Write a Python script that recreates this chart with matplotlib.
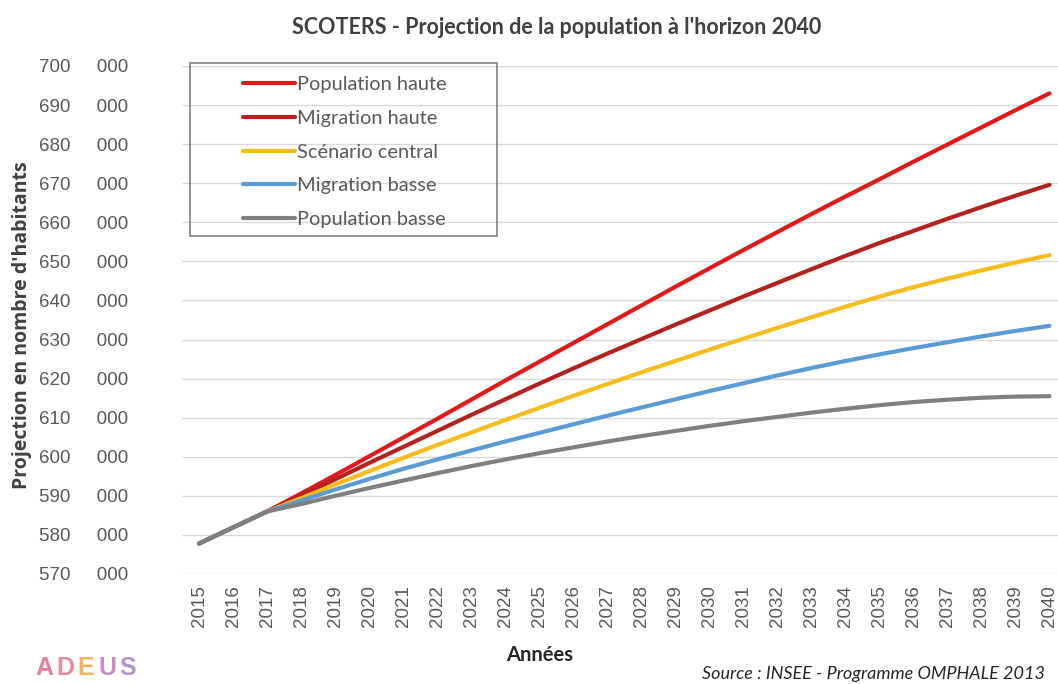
import matplotlib.pyplot as plt
from matplotlib.ticker import FuncFormatter
from matplotlib.patches import Rectangle

# annees et projections (en milliers d'habitants)
years = list(range(2015, 2041))
pop_haute = [577.8, 581.9, 586.0, 590.6, 595.3, 600.1, 604.9, 609.7, 614.6, 619.5,
             624.3, 629.1, 633.9, 638.7, 643.5, 648.2, 652.9, 657.5, 662.1, 666.6,
             671.0, 675.5, 679.9, 684.3, 688.7, 693.0]
mig_haute = [577.8, 581.9, 586.0, 590.0, 594.2, 598.4, 602.5, 606.6, 610.7, 614.7,
             618.7, 622.6, 626.4, 630.1, 633.8, 637.4, 641.0, 644.5, 648.0, 651.4,
             654.7, 657.8, 660.9, 663.9, 666.8, 669.6]
central = [577.8, 581.9, 586.0, 589.4, 592.9, 596.3, 599.7, 603.0, 606.2, 609.4,
           612.5, 615.6, 618.6, 621.6, 624.5, 627.4, 630.2, 633.0, 635.7, 638.4,
           641.0, 643.4, 645.6, 647.7, 649.7, 651.6]
mig_basse = [577.8, 581.9, 586.0, 588.8, 591.6, 594.3, 596.9, 599.3, 601.6, 603.9,
             606.1, 608.3, 610.5, 612.6, 614.7, 616.8, 618.8, 620.8, 622.7, 624.5,
             626.2, 627.8, 629.3, 630.8, 632.2, 633.5]
pop_basse = [577.8, 581.9, 586.0, 587.9, 590.0, 592.0, 593.9, 595.8, 597.6, 599.3,
             600.9, 602.4, 603.9, 605.3, 606.6, 607.9, 609.1, 610.2, 611.3, 612.3,
             613.2, 614.0, 614.6, 615.1, 615.4, 615.5]

labels = ['Population haute', 'Migration haute', 'Scénario central',
          'Migration basse', 'Population basse']
colors = ['#E2191C', '#B3221F', '#F5BD19', '#5B9BD5', '#7F7F7F']
series = [pop_haute, mig_haute, central, mig_basse, pop_basse]

grey = '#595959'

fig = plt.figure(figsize=(10.58, 6.84), dpi=100)
ax = fig.add_axes([182 / 1058, 1 - 574 / 684, 1 - 182 / 1058, (574 - 66) / 684])

for vals, lab, col in zip(series, labels, colors):
    ax.plot(years, [v * 1000 for v in vals], color=col, lw=3, label=lab,
            solid_capstyle='round')

ax.set_xlim(2014.5, 2040.25)
ax.set_ylim(570000, 700000)
ax.set_yticks(range(570000, 700001, 10000))
ax.yaxis.set_major_formatter(FuncFormatter(lambda v, p: f"{int(round(v / 1000))}     000"))
ax.set_xticks(years)
ax.set_xticklabels([str(y) for y in years], rotation=90)
ax.grid(axis='y', color='#D9D9D9', lw=1)
ax.set_axisbelow(True)
for s in ax.spines.values():
    s.set_visible(False)
ax.tick_params(axis='both', length=0, colors=grey, labelsize=13.5)
ax.tick_params(axis='x', pad=8)
ax.tick_params(axis='y', pad=39)
for t in ax.get_xticklabels() + ax.get_yticklabels():
    t.set_family('Liberation Sans')

ax.set_ylabel("Projection en nombre d'habitants", family='Open Sans',
              fontweight='bold', fontsize=14, color='#404040')
ax.yaxis.set_label_coords((32 - 182) / 876, 0.49)

fig.text(557 / 1058, 1 - 27 / 684, "SCOTERS - Projection de la population à l'horizon 2040",
         ha='center', va='center', family='Lato', fontweight='bold', fontsize=15.5, color='#404040')
fig.text(540 / 1058, 1 - 655 / 684, 'Années', ha='center', va='center',
         family='Lato', fontweight='bold', fontsize=14.5, color='#262626')
fig.text(1045 / 1058, 1 - 674 / 684, 'Source : INSEE - Programme OMPHALE 2013',
         ha='right', va='center', family='Lato', style='italic', fontsize=13, color='#262626')

# logo ADEUS
logo = [('A', '#E27FA4'), ('D', '#E98A9E'), ('E', '#F3B45E'), ('U', '#C98CC2'), ('S', '#B492CC')]
for i, (ch, c) in enumerate(logo):
    fig.text((35 + i * 21) / 1058, 1 - 668 / 684, ch, ha='left', va='center',
             family='Liberation Sans', fontweight='bold', fontsize=18, color=c)

# cadre de la legende
ax.add_patch(Rectangle((190 / 1058, 1 - 236 / 684), 307 / 1058, 173 / 684,
                       transform=fig.transFigure, fill=False,
                       edgecolor='#808080', lw=1.2, zorder=4, clip_on=False))
leg = ax.legend(loc='upper left', bbox_to_anchor=(243 / 1058, 1 - 76 / 684),
                bbox_transform=fig.transFigure, frameon=False, borderaxespad=0,
                borderpad=0, handlelength=2.6, handletextpad=0.1, labelspacing=0.84,
                prop={'family': 'Lato', 'size': 14.4})
leg.set_zorder(5)
for t in leg.get_texts():
    t.set_color(grey)

fig.savefig('out.png', dpi=100)
